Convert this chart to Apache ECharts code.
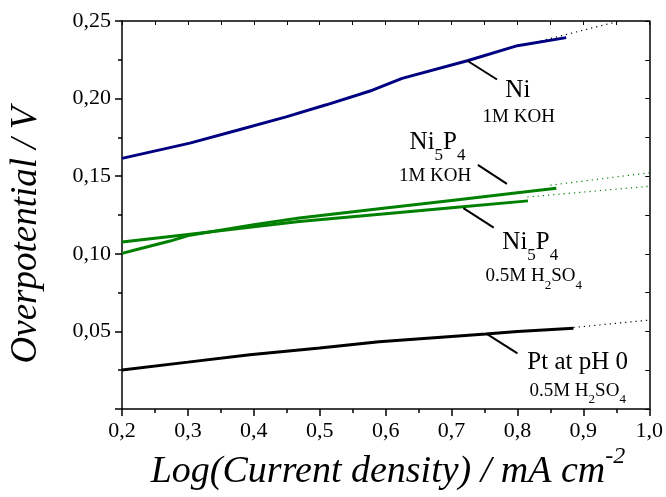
<!DOCTYPE html>
<html><head><meta charset="utf-8">
<script src="https://cdn.jsdelivr.net/npm/echarts@6/dist/echarts.min.js"></script>
<style>html,body{margin:0;padding:0;background:#fff}#c{width:666px;height:497px}</style>
</head><body><div id="c"></div>
<script>
const FONT = '"Liberation Serif", "Times New Roman", serif';

// ---- data ----
const xTickLabels = ['0,2','0,3','0,4','0,5','0,6','0,7','0,8','0,9','1,0'];
const yTickLabels = ['', '0,05', '0,10', '0,15', '0,20', '0,25'];

const niX = [0.2, 0.303, 0.375, 0.449, 0.51, 0.58, 0.625, 0.724, 0.8, 0.874];
const niY = [0.1615, 0.1713, 0.1796, 0.1882, 0.196, 0.2054, 0.213, 0.2244, 0.2341, 0.2393];

const ni5p4KohX = [0.2, 0.227, 0.273, 0.303, 0.4, 0.469, 0.6, 0.7, 0.8, 0.859];
const ni5p4KohY = [0.1003, 0.1033, 0.1082, 0.1120, 0.1188, 0.1230, 0.1295, 0.1344, 0.1393, 0.1422];

const ni5p4AcidX = [0.2, 0.3, 0.4, 0.469, 0.6, 0.7, 0.816];
const ni5p4AcidY = [0.1076, 0.1125, 0.1174, 0.1208, 0.1258, 0.1296, 0.1341];

const ptX = [0.2, 0.3, 0.394, 0.5, 0.59, 0.752, 0.8, 0.885];
const ptY = [0.0252, 0.0302, 0.035, 0.0393, 0.0433, 0.0484, 0.0500, 0.0521];

// dotted extrapolations [start, end]
const niExt = [[0.82, 0.2355], [0.955, 0.2500]];
const kohExt = [[0.85, 0.1442], [1.0, 0.1522]];
const acidExt = [[0.815, 0.1366], [1.0, 0.1435]];
const ptExt = [[0.885, 0.0525], [1.0, 0.0573]];

// leader lines (data coords)
const leaders = [
  [[0.724, 0.2244], [0.769, 0.2123]],
  [[0.740, 0.1573], [0.784, 0.1450]],
  [[0.718, 0.1294], [0.764, 0.1169]],
  [[0.754, 0.0483], [0.800, 0.0359]]
];

// annotation texts: anchor (data coords), pieces [text, fontSize, dy]
const labels = [
  {at: [0.8006, 0.2054], parts: [['Ni', 25, 0]]},
  {at: [0.802, 0.1883], parts: [['1M KOH', 19, 0]]},
  {at: [0.6788, 0.1715], parts: [['Ni', 25, 0], ['5', 17, 13], ['P', 25, 0], ['4', 17, 13]]},
  {at: [0.675, 0.1503], parts: [['1M KOH', 19, 0]]},
  {at: [0.8195, 0.1074], parts: [['Ni', 25, 0], ['5', 17, 13], ['P', 25, 0], ['4', 17, 13]]},
  {at: [0.8248, 0.0856], parts: [['0.5M H', 19, 0], ['2', 13, 9], ['SO', 19, 0], ['4', 13, 9]]},
  {at: [0.8914, 0.0297], parts: [['Pt at pH 0', 25, 0]]},
  {at: [0.8914, 0.0117], parts: [['0.5M H', 19, 0], ['2', 13, 9], ['SO', 19, 0], ['4', 13, 9]]}
];

const zip = (a, b) => a.map((v, i) => [v, b[i]]);

const chart = echarts.init(document.getElementById('c'), null, {renderer: 'canvas'});

const axisCommon = {
  type: 'value',
  axisLine: {show: true, onZero: false, lineStyle: {color: '#000', width: 1.5}},
  splitLine: {show: false},
  minorSplitLine: {show: false}
};

const lineS = (data, color, width, type) => ({
  type: 'line', data, symbol: 'none', silent: true, animation: false,
  lineStyle: {color, width, type: type || 'solid'}, z: type ? 1 : 3
});

const series = [
  lineS(zip(niX, niY), '#000080', 3),
  lineS(zip(ni5p4KohX, ni5p4KohY), '#008000', 3),
  lineS(zip(ni5p4AcidX, ni5p4AcidY), '#008000', 3),
  lineS(zip(ptX, ptY), '#000000', 3),
  lineS(niExt, '#000000', 1.2, [1.2, 4]),
  lineS(kohExt, '#008000', 1.2, [1.2, 4]),
  lineS(acidExt, '#008000', 1.2, [1.2, 4]),
  lineS(ptExt, '#000000', 1.2, [1.2, 4])
];
leaders.forEach(l => series.push(lineS(l, '#000000', 2)));

chart.setOption({
  animation: false,
  backgroundColor: '#fff',
  grid: {left: 122, right: 15, top: 21, bottom: 88},
  xAxis: [
    Object.assign({}, axisCommon, {
      position: 'bottom', min: 0.2, max: 1.0, interval: 0.1,
      axisTick: {show: true, inside: false, length: 7, lineStyle: {color: '#000', width: 1.5}},
      minorTick: {show: true, splitNumber: 2, length: 4, lineStyle: {color: '#000', width: 1.5}},
      axisLabel: {color: '#000', fontFamily: FONT, fontSize: 22, margin: 11,
        formatter: v => xTickLabels[Math.round((v - 0.2) / 0.1)]}
    }),
    Object.assign({}, axisCommon, {
      position: 'top', min: 0.2, max: 1.0, interval: 0.1,
      axisTick: {show: true, inside: true, length: 4, lineStyle: {color: '#000', width: 1}},
      minorTick: {show: true, splitNumber: 2, length: 4, lineStyle: {color: '#000', width: 1}},
      axisLabel: {show: false}
    })
  ],
  yAxis: [
    Object.assign({}, axisCommon, {
      position: 'left', min: 0, max: 0.25, interval: 0.05,
      axisTick: {show: true, inside: false, length: 7, lineStyle: {color: '#000', width: 1.5}},
      minorTick: {show: true, splitNumber: 2, length: 4, lineStyle: {color: '#000', width: 1.5}},
      axisLabel: {color: '#000', fontFamily: FONT, fontSize: 22, margin: 11,
        formatter: v => yTickLabels[Math.round(v / 0.05)]}
    }),
    Object.assign({}, axisCommon, {
      position: 'right', min: 0, max: 0.25, interval: 0.05,
      axisTick: {show: true, inside: true, length: 4, lineStyle: {color: '#000', width: 1}},
      minorTick: {show: true, splitNumber: 2, length: 4, lineStyle: {color: '#000', width: 1}},
      axisLabel: {show: false}
    })
  ],
  series
});

// ---- text pieces ----
const ctx = document.createElement('canvas').getContext('2d');
function tw(t, size, style) { ctx.font = (style || 'normal') + ' ' + size + 'px ' + FONT; return ctx.measureText(t).width; }
function pieces(parts, cx, cy, style) {
  const total = parts.reduce((s, p) => s + tw(p[0], p[1], style), 0);
  let x = cx - total / 2;
  const out = [];
  parts.forEach(p => {
    out.push({type: 'text', x: x, y: cy + p[2], silent: true,
      style: {text: p[0], fontSize: p[1], fontFamily: FONT, fontStyle: style || 'normal', fill: '#000',
        align: 'left', textAlign: 'left', verticalAlign: 'middle', textVerticalAlign: 'middle'}});
    x += tw(p[0], p[1], style);
  });
  return out;
}

let graphics = [];
labels.forEach(l => {
  const p = chart.convertToPixel({xAxisIndex: 0, yAxisIndex: 0}, l.at);
  graphics = graphics.concat(pieces(l.parts, p[0], p[1]));
});
// axis names
graphics = graphics.concat(pieces([['Log(Current density) / mA cm', 38, 0], ['-2', 24, -15]], 388, 472, 'italic'));
graphics.push({type: 'text', x: 26, y: 235, rotation: Math.PI / 2, silent: true,
  style: {text: 'Overpotential / V', fontSize: 37, fontFamily: FONT, fontStyle: 'italic', fill: '#000',
    align: 'center', textAlign: 'center', verticalAlign: 'middle', textVerticalAlign: 'middle'}});

chart.setOption({graphic: graphics});
</script>
</body></html>
